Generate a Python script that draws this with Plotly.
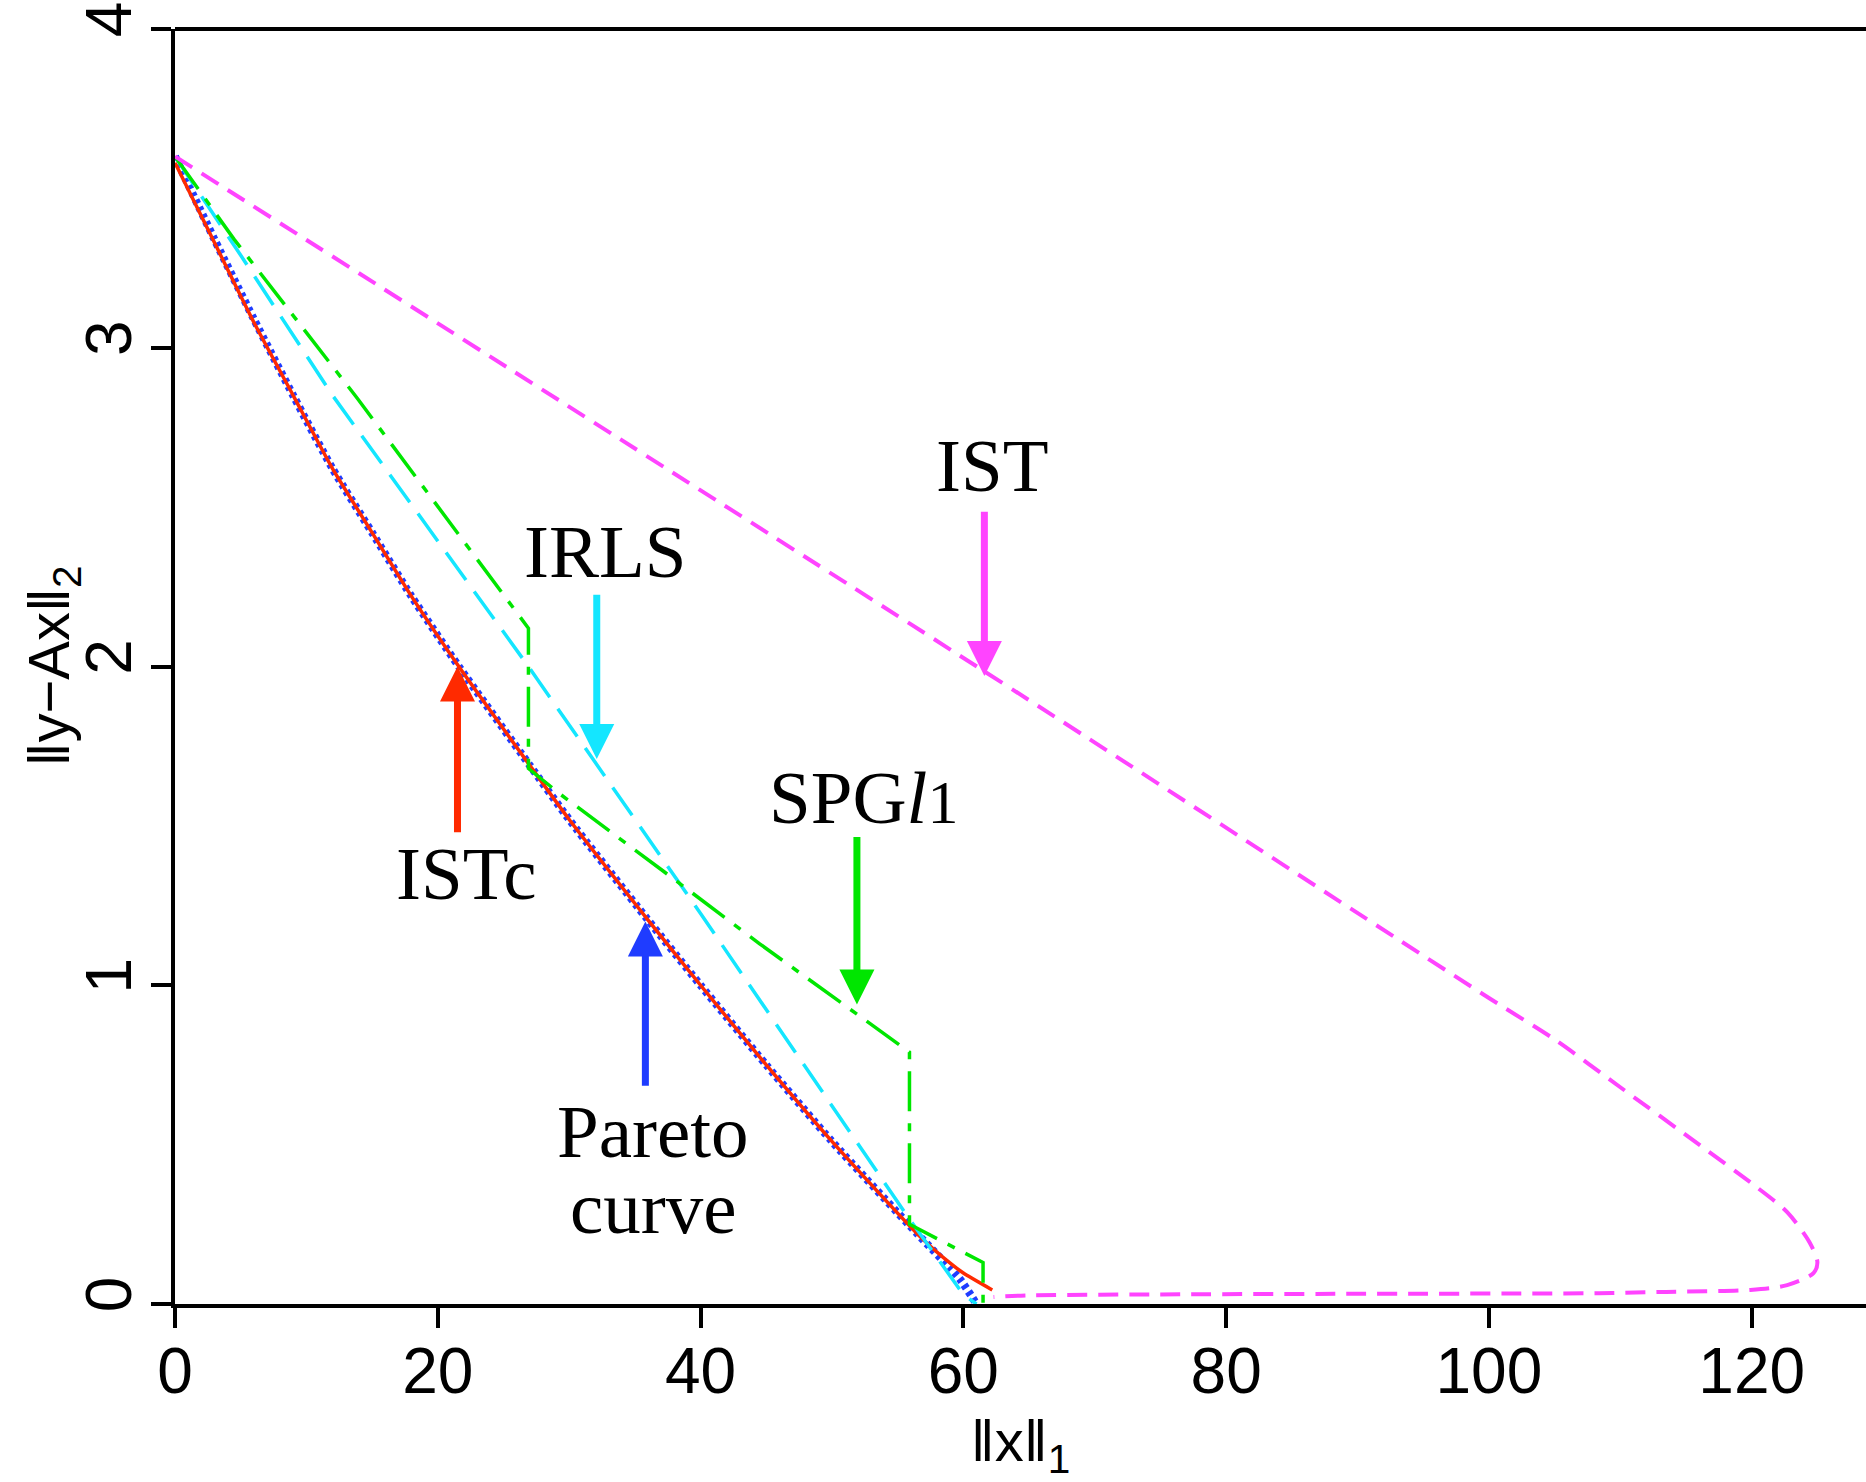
import plotly.graph_objects as go

# ---------------- data ----------------
pareto_x = [0, 3, 6, 9, 12, 15, 18, 21.6, 27, 30, 35.9, 40, 45, 50, 56.5, 59.7, 61]
pareto_y = [3.6, 3.34, 3.09, 2.85, 2.62, 2.42, 2.22, 2.0, 1.69, 1.52, 1.21, 1.0, 0.75, 0.51, 0.22, 0.08, 0.0]

istc_x = [0, 3, 6, 9, 12, 15, 18, 21.6, 27, 30, 35.9, 40, 45, 50, 56.5, 59, 60, 62.2]
istc_y = [3.58, 3.33, 3.08, 2.85, 2.62, 2.42, 2.22, 2.0, 1.69, 1.52, 1.21, 1.0, 0.75, 0.51, 0.22, 0.128, 0.097, 0.044]

irls_x = [0, 5, 12, 26.9, 40, 55.7, 60, 61]
irls_y = [3.6, 3.29, 2.85, 2.0, 1.225, 0.278, 0.03, 0.0]

spg_x = [0, 4.5, 13.9, 26.9, 26.9, 29.3, 37.1, 44.5, 55.9, 55.9, 61.5, 61.5]
spg_y = [3.6, 3.34, 2.84, 2.12, 1.68, 1.6, 1.36, 1.13, 0.79, 0.25, 0.13, 0.0]

ist_x = [0, 61.4, 100, 105, 110, 116.1, 120.4, 122.7, 124.4, 125.0, 124.7, 122.7, 119.9, 113.5, 108.4, 90, 74.2, 65, 62.3]
ist_y = [3.6, 1.99, 0.96, 0.83, 0.68, 0.497, 0.366, 0.288, 0.194, 0.131, 0.097, 0.059, 0.044, 0.038, 0.034, 0.032, 0.030, 0.027, 0.022]

x_ticks = [0, 20, 40, 60, 80, 100, 120]
y_ticks = [0, 1, 2, 3, 4]

# ---------------- styles ----------------
BLUE = "#1f3cff"
RED = "#ff2a00"
CYAN = "#14e6ff"
GREEN = "#00e600"
MAGENTA = "#ff44ff"

fig = go.Figure()

fig.add_trace(go.Scatter(x=pareto_x, y=pareto_y, mode="lines", name="Pareto curve",
                         line=dict(color=BLUE, width=8, dash="4px,4px", shape="spline", smoothing=0.6)))
fig.add_trace(go.Scatter(x=istc_x, y=istc_y, mode="lines", name="ISTc",
                         line=dict(color=RED, width=3.5, shape="spline", smoothing=0.6)))
fig.add_trace(go.Scatter(x=irls_x, y=irls_y, mode="lines", name="IRLS",
                         line=dict(color=CYAN, width=3.5, dash="34px,14px")))
fig.add_trace(go.Scatter(x=spg_x, y=spg_y, mode="lines", name="SPGl1",
                         line=dict(color=GREEN, width=3.5, dash="40px,12px,8px,12px")))
fig.add_trace(go.Scatter(x=ist_x, y=ist_y, mode="lines", name="IST",
                         line=dict(color=MAGENTA, width=4, dash="20px,11px", shape="spline", smoothing=0.8)))

# ---------------- arrows and labels ----------------
arrows = [
    # (tip x, tip y, tail x, tail y, colour)
    (61.6, 1.97, 61.6, 2.49, MAGENTA),
    (32.1, 1.71, 32.1, 2.23, CYAN),
    (51.9, 0.94, 51.9, 1.47, GREEN),
    (21.5, 2.00, 21.5, 1.475, RED),
    (35.8, 1.20, 35.8, 0.68, BLUE),
]
annotations = []
for tx, ty, sx, sy, c in arrows:
    annotations.append(dict(x=tx, y=ty, ax=sx, ay=sy, xref="x", yref="y", axref="x", ayref="y",
                            text="", showarrow=True, arrowhead=2, arrowsize=1.0,
                            arrowwidth=7, arrowcolor=c))

SERIF = "Liberation Serif, Times New Roman, serif"
labels = [
    ("IST", 62.2, 2.63),
    ("IRLS", 32.8, 2.36),
    ("SPG<i>l</i><span style='font-size:62px'>1</span>", 52.4, 1.59),
    ("ISTc", 22.2, 1.35),
    ("Pareto", 36.4, 0.54),
    ("curve", 36.4, 0.303),
]
for t, x, y in labels:
    annotations.append(dict(x=x, y=y, xref="x", yref="y", text=t, showarrow=False,
                            xanchor="center", yanchor="middle",
                            font=dict(family=SERIF, size=75, color="black")))

SANS = "Liberation Sans, Arial, sans-serif"
# y axis title as a rotated annotation for exact placement
annotations.append(dict(x=-0.0727, y=0.5, xref="paper", yref="paper", text="‖y−Ax‖<sub>2</sub>",
                        textangle=-90, showarrow=False, xanchor="center", yanchor="middle",
                        font=dict(family=SANS, size=58, color="black")))

fig.update_layout(
    width=1866, height=1482,
    margin=dict(l=175, r=0, t=29, b=173),
    paper_bgcolor="white", plot_bgcolor="white",
    showlegend=False,
    annotations=annotations,
    font=dict(family=SANS, color="black"),
)
fig.update_xaxes(
    range=[0, 128.7], tickvals=x_ticks, ticktext=[str(v) for v in x_ticks],
    showgrid=False, zeroline=False, showline=True, linecolor="black", linewidth=4,
    ticks="outside", ticklen=20, tickwidth=4, tickcolor="black",
    tickfont=dict(family=SANS, size=64), ticklabelstandoff=-12,
    title=dict(text="‖x‖<sub>1</sub>", font=dict(family=SANS, size=58), standoff=35),
)
fig.update_yaxes(
    range=[0, 4], tickvals=y_ticks, ticktext=[str(v) for v in y_ticks],
    showgrid=False, zeroline=False, showline=True, linecolor="black", linewidth=4,
    ticks="outside", ticklen=20, tickwidth=4, tickcolor="black", tickangle=-90,
    tickfont=dict(family=SANS, size=64), ticklabelstandoff=-6,
)
# top frame line
fig.add_shape(type="line", xref="paper", yref="paper", x0=0, x1=1, y0=1, y1=1,
              line=dict(color="black", width=4))

fig.write_html("out.html")
